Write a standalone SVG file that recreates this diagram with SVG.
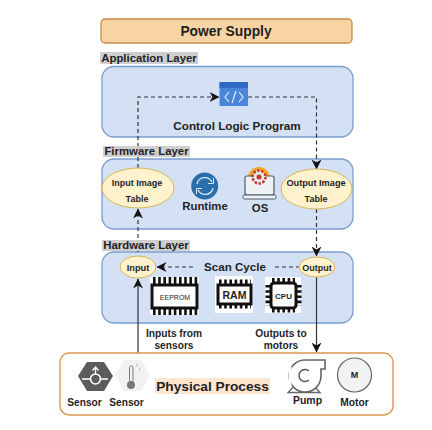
<svg xmlns="http://www.w3.org/2000/svg" width="432" height="430" viewBox="0 0 432 430">
<style>
text{font-family:"Liberation Sans",Arial,sans-serif;font-weight:bold;fill:#1f1f1f;text-anchor:middle}
.panel{fill:#d4e1f5;stroke:#7b9ccf;stroke-width:1.3}
.ell{fill:#fff2cc;stroke:#d6b656;stroke-width:1}
.dash{fill:none;stroke:#333;stroke-width:1.2;stroke-dasharray:4 3}
.solid{fill:none;stroke:#333;stroke-width:1.2}
.lab{fill:#cfcfcf}
.body{fill:#fff;stroke:#111;stroke-width:3}
.pin{stroke:#111;fill:none;stroke-dasharray:2.6 2.6}
.w{fill:#fff}
</style>
<defs>
<marker id="a" viewBox="0 0 10 10" refX="9.500" refY="5" markerWidth="10" markerHeight="10" markerUnits="userSpaceOnUse" orient="auto"><path d="M0 0L10 5L0 10L3 5Z" fill="#111"/></marker>
</defs>
<rect width="432" height="430" fill="#fff"/>
<g id="power-supply"><rect x="101" y="19" width="251" height="24" rx="4" fill="#f8d4a4" stroke="#c98a45" stroke-width="1.300"/><text x="226" y="36" font-size="13.800">Power Supply</text></g>
<rect class="panel" x="102" y="66.500" width="251" height="70.500" rx="12"/>
<rect class="panel" x="102" y="159" width="251" height="70" rx="12"/>
<rect class="panel" x="102" y="252" width="251" height="71" rx="12"/>
<g id="connectors">
<path class="dash" d="M138 168V97H219" marker-end="url(#a)"/>
<path class="dash" d="M248 97H316.500V169" marker-end="url(#a)"/>
<path class="dash" d="M138 252V209" marker-end="url(#a)"/>
<path class="dash" d="M316.500 209V256" marker-end="url(#a)"/>
<path class="dash" d="M193 267H157" marker-end="url(#a)"/>
<path class="dash" d="M275 267H299"/>
<path class="solid" d="M138 353V279" marker-end="url(#a)"/>
<path class="solid" d="M316.500 277V352" marker-end="url(#a)"/>
</g>
<g id="application-layer"><rect class="lab" x="100" y="52" width="98" height="12"/><text x="149" y="62" font-size="11.400">Application Layer</text></g>
<g id="firmware-layer"><rect class="lab" x="103" y="146" width="87" height="11"/><text x="146.500" y="155" font-size="11.400">Firmware Layer</text></g>
<g id="hardware-layer"><rect class="lab" x="102" y="240" width="88" height="11"/><text x="146" y="249" font-size="11.400">Hardware Layer</text></g>
<g id="control-logic"><rect x="219.500" y="82" width="28.500" height="24" rx="1" fill="#4a86dc"/><rect x="219.500" y="82" width="28.500" height="6" fill="#2f69c4"/><path d="M229 92L225 97L229 102M239 92L243 97L239 102M236 91L232 103" fill="none" stroke="#e8f0fc" stroke-width="1.100"/><text x="237" y="130" font-size="11.700">Control Logic Program</text></g>
<g id="input-image-table"><ellipse class="ell" cx="138" cy="188" rx="36" ry="20"/><text x="137" y="186" font-size="9">Input Image</text><text x="137" y="202" font-size="9">Table</text></g>
<g id="runtime"><circle cx="204.700" cy="186" r="13.500" fill="#2a6fad"/><path d="M197 184A8 8 0 0 1 212 182M213 188A8 8 0 0 1 198 190" fill="none" stroke="#d9e8f5" stroke-width="1.300"/><path d="M213.500 178V183.500H208M196.500 194V188.500H202" fill="none" stroke="#d9e8f5" stroke-width="1"/><text x="205" y="210" font-size="11.400">Runtime</text></g>
<g id="os"><path d="M248 178A11 11 0 0 1 270 178Z" fill="#f0a830"/><rect x="245" y="176" width="29" height="19" rx="2" fill="#eef1f4" stroke="#4a5a68" stroke-width="1.200"/><rect x="243" y="195" width="33" height="4" rx="1.500" fill="#eef1f4" stroke="#4a5a68"/><circle cx="259" cy="177" r="6.500" fill="#e8e8e8" stroke="#c0392b" stroke-width="2.500" stroke-dasharray="2.500 1.500"/><circle cx="259" cy="177" r="2.500" fill="#c0392b"/><text x="260" y="212" font-size="11.400">OS</text></g>
<g id="output-image-table"><ellipse class="ell" cx="316.500" cy="189" rx="35.500" ry="20"/><text x="316" y="186" font-size="9.200">Output Image</text><text x="316" y="202" font-size="9">Table</text></g>
<g id="input"><ellipse class="ell" cx="138" cy="267" rx="18" ry="11"/><text x="138" y="271" font-size="9.300">Input</text></g>
<g id="output"><ellipse class="ell" cx="317" cy="267" rx="18" ry="10"/><text x="317" y="271" font-size="9">Output</text></g>
<text id="scan-cycle" x="235" y="271" font-size="11.600">Scan Cycle</text>
<g id="eeprom"><rect class="w" x="150" y="277" width="49" height="38"/><path class="pin" stroke-width="7" d="M153 280.500H198M153 311.500H198"/><rect class="body" x="152" y="285" width="45" height="23"/><text x="175" y="299.500" font-size="7" style="font-weight:normal" fill="#444">EEPROM</text></g>
<g id="ram"><rect class="w" x="215" y="276" width="38" height="37"/><path class="pin" stroke-width="5" stroke-dasharray="2 2" d="M219 282H251M219 306H251"/><rect class="body" x="218" y="285" width="33" height="19"/><text x="234.500" y="299" font-size="10.500" fill="#111">RAM</text></g>
<g id="cpu"><rect class="w" x="265" y="277" width="36" height="36"/><path class="pin" stroke-width="5" stroke-dasharray="2 2" d="M272 280.500H295M272 310H295M268 285V306M299 285V306"/><rect class="body" x="271" y="283" width="25" height="25" rx="3"/><text x="283.500" y="299" font-size="8" fill="#111">CPU</text></g>
<text x="174" y="337" font-size="10.200">Inputs from</text>
<text x="174" y="349" font-size="10.200">sensors</text>
<text x="281" y="337" font-size="10.200">Outputs to</text>
<text x="281" y="349" font-size="10.200">motors</text>
<g id="physical-process">
<rect x="60" y="353" width="333" height="62" rx="9" fill="#fff" stroke="#dc9650" stroke-width="1.400"/>
<rect x="155" y="378" width="115" height="16" fill="#fde6d0"/><text x="212.500" y="391" font-size="13.700">Physical Process</text>
</g>
<g id="sensor-1"><path d="M78 376L87 362H104L113 376L104 391H87Z" fill="#5c5c5c"/><path d="M82 379H90M101 379H108" stroke="#fff" stroke-width="1.600"/><circle cx="95.500" cy="379" r="5" fill="#5c5c5c" stroke="#fff" stroke-width="1.600"/><path d="M95.500 374V368M92.500 370.500L95.500 367L98.500 370.500" fill="none" stroke="#fff" stroke-width="1.300"/><text x="84.500" y="406" font-size="10.200">Sensor</text></g>
<g id="sensor-2"><path d="M115 375L124 360H141L150 375L141 391H124Z" fill="#f2f2f2"/><rect x="129.500" y="366" width="3.500" height="16" rx="1.700" fill="#f2f2f2" stroke="#777"/><circle cx="131" cy="385" r="4" fill="#777"/><path d="M136 364Q139 365 137 367M139 368Q141 369 139 371" fill="none" stroke="#999" stroke-width=".6"/><text x="126.500" y="406" font-size="10.200">Sensor</text></g>
<g id="pump"><path d="M288 392.500H320L312 384H296Z" fill="#fff" stroke="#666" stroke-width="1.300"/><path d="M325 360H305A16 16 0 1 0 321 376V369H325Z" fill="#fff" stroke="#666" stroke-width="1.600"/><path d="M290 366V386" stroke="#fff" stroke-width="3"/><path d="M309 371A6 6 0 1 0 309 380" fill="none" stroke="#555" stroke-width="1.400"/><text x="307.500" y="404" font-size="10.500">Pump</text></g>
<g id="motor"><circle cx="354.500" cy="375" r="17" fill="#f2f2f2" stroke="#666" stroke-width="1.200"/><text x="354.500" y="378" font-size="9" fill="#444">M</text><text x="354.500" y="406" font-size="10.200">Motor</text></g>
</svg>
